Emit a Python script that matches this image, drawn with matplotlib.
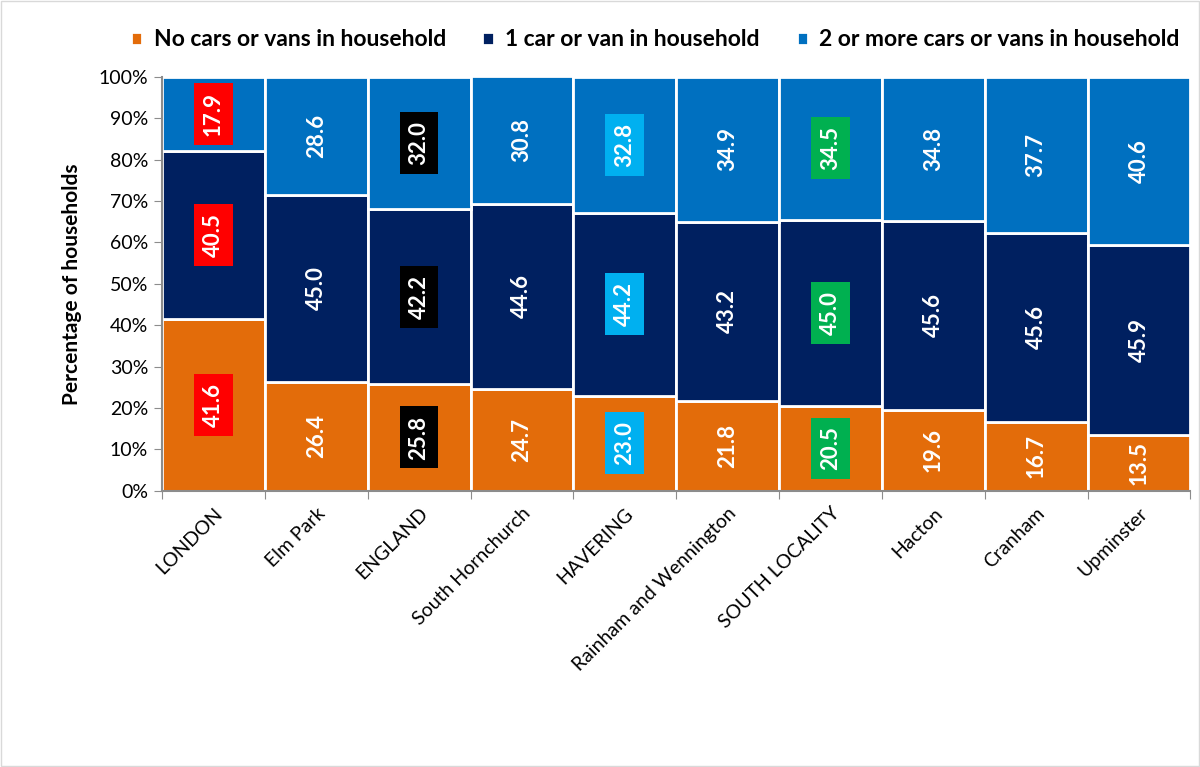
import matplotlib
matplotlib.use('Agg')
import matplotlib.pyplot as plt
import numpy as np

# data
areas = ['LONDON', 'Elm Park', 'ENGLAND', 'South Hornchurch', 'HAVERING',
         'Rainham and Wennington', 'SOUTH LOCALITY', 'Hacton', 'Cranham', 'Upminster']
no_car = [41.6, 26.4, 25.8, 24.7, 23.0, 21.8, 20.5, 19.6, 16.7, 13.5]
one_car = [40.5, 45.0, 42.2, 44.6, 44.2, 43.2, 45.0, 45.6, 45.6, 45.9]
two_plus = [17.9, 28.6, 32.0, 30.8, 32.8, 34.9, 34.5, 34.8, 37.7, 40.6]
series_names = ['No cars or vans in household', '1 car or van in household',
                '2 or more cars or vans in household']

# label box colours for the comparison areas
highlight = {'LONDON': '#FF0000', 'ENGLAND': '#000000',
             'HAVERING': '#00B0F0', 'SOUTH LOCALITY': '#00B050'}

colors = ['#E36C0A', '#002060', '#0070C0']
plt.rcParams['font.family'] = ['Lato', 'DejaVu Sans']

fig = plt.figure(figsize=(12, 7.67), dpi=100)
ax = fig.add_axes([0.135, 0.36, 0.857, 0.54])

x = np.arange(len(areas))
bottom = np.zeros(len(areas))
for vals, col, name in zip([no_car, one_car, two_plus], colors, series_names):
    vals = np.array(vals)
    ax.bar(x, vals, bottom=bottom, width=1.0, color=col, edgecolor='white',
           linewidth=2, label=name, zorder=2)
    for xi, v, b, area in zip(x, vals, bottom, areas):
        box = highlight.get(area)
        bb = dict(boxstyle='square,pad=0.4', fc=box, ec='none') if box else None
        ax.text(xi, b + v / 2, f'{v:.1f}', rotation=90, ha='center', va='center',
                color='white', fontsize=16, fontweight='bold', bbox=bb, zorder=3)
    bottom += vals

ax.set_xlim(-0.5, len(areas) - 0.5)
ax.set_ylim(0, 100)
ax.set_yticks(np.arange(0, 101, 10))
ax.set_yticklabels([f'{t}%' for t in range(0, 101, 10)], fontsize=14)
ax.set_xticks(np.arange(-0.5, len(areas), 1.0), minor=False)
ax.set_xticklabels([])
ax.set_xticks(x, minor=True)
ax.set_xticklabels(areas, minor=True, rotation=45, ha='right', rotation_mode='anchor',
                   fontsize=14)
ax.tick_params(axis='x', which='minor', length=0, pad=10)
ax.tick_params(axis='x', which='major', length=6, color='#8C8C8C')
ax.tick_params(axis='y', length=6, color='#8C8C8C', pad=4)
ax.set_ylabel('Percentage of households', fontsize=15, fontweight='bold', labelpad=12)

ax.axhline(100, color='#D9D9D9', lw=1, zorder=1)
for s in ['top', 'right']:
    ax.spines[s].set_visible(False)
for s in ['left', 'bottom']:
    ax.spines[s].set_color('#8C8C8C')
    ax.spines[s].set_linewidth(1.5)

leg = fig.legend(loc='center', bbox_to_anchor=(0.546, 0.948), ncol=3,
                 frameon=False, handlelength=0.5, handleheight=0.5,
                 handletextpad=0.5, columnspacing=1.6,
                 prop={'size': 16.5, 'weight': 'bold'})

fig.patches.append(plt.Rectangle((0.001, 0.001), 0.998, 0.998, transform=fig.transFigure,
                                 fill=False, ec='#D9D9D9', lw=1))

fig.savefig('out.png', dpi=100)
